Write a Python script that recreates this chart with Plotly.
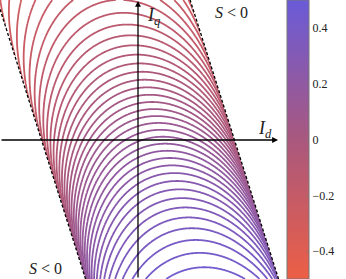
import numpy as np
import plotly.graph_objects as go

# feasible strip S >= 0 :  |Id + K*Iq| <= W   (outside: S < 0)
K_SHEAR = 0.317
W_HALF = 0.965

# shape of the level curves inside the strip
R_ARC = 1.2
B_SKEW = 0.28
G_MID = 1.11
A_SLOPE = 0.78
F_MID = 0.12
F_AMP = 1.17

X_RANGE = [-1.38, 1.42]
Y_RANGE = [-1.39, 1.40]
N_GRID = 420

LEVEL_START, LEVEL_END, LEVEL_STEP = -0.49, 0.49, 0.02
CBAR_RANGE = [-0.5, 0.5]
CBAR_TICKS = [-0.4, -0.2, 0, 0.2, 0.4]
CBAR_LABELS = ["−0.4", "−0.2", "0", "0.2", "0.4"]
COLORSCALE = [[0.0, "#ec5f45"], [0.5, "#a9587e"], [1.0, "#6a5bd8"]]

SERIF = "Liberation Serif, DejaVu Serif, serif"

x = np.linspace(X_RANGE[0], X_RANGE[1], N_GRID)
y = np.linspace(Y_RANGE[0], Y_RANGE[1], N_GRID)
X, Y = np.meshgrid(x, y)
U = (X + K_SHEAR * Y) / W_HALF
inside = np.abs(U) <= 1.0
Uc = np.clip(U, -1, 1)
G = -Y + R_ARC * (np.sqrt(1 - Uc ** 2) + B_SKEW * Uc)
F = F_MID + F_AMP * np.arctan(A_SLOPE * (G - G_MID)) / np.pi
F = np.where(inside, F, np.nan)

fig = go.Figure()
fig.add_trace(go.Contour(
    x=x, y=y, z=F,
    zmin=CBAR_RANGE[0], zmax=CBAR_RANGE[1],
    colorscale=COLORSCALE,
    contours=dict(coloring="lines", start=LEVEL_START, end=LEVEL_END, size=LEVEL_STEP),
    line=dict(width=1.8),
    connectgaps=False,
    showscale=False,
    hoverinfo="skip",
))

# continuous colour bar (dummy trace)
fig.add_trace(go.Scatter(
    x=[None, None], y=[None, None], mode="markers",
    marker=dict(
        color=CBAR_RANGE, cmin=CBAR_RANGE[0], cmax=CBAR_RANGE[1],
        colorscale=COLORSCALE, showscale=True,
        colorbar=dict(
            x=287 / 346, xanchor="left", xpad=0,
            y=0.5, yanchor="middle", len=1.0, lenmode="fraction", ypad=0,
            thickness=22, outlinecolor="#777777", outlinewidth=1,
            tickvals=CBAR_TICKS, ticktext=CBAR_LABELS,
            ticks="inside", ticklen=3, tickcolor="rgba(120,120,120,0.6)",
            tickfont=dict(family=SERIF, size=12, color="#222222"),
        ),
    ),
    hoverinfo="skip", showlegend=False,
))

# strip boundaries (dashed)
yb = np.array(Y_RANGE)
for side in (-1, 1):
    fig.add_trace(go.Scatter(
        x=side * W_HALF - K_SHEAR * yb, y=yb,
        mode="lines", line=dict(color="black", width=1.3, dash="3px,2px"),
        hoverinfo="skip", showlegend=False,
    ))

# coordinate axes with arrows
fig.add_annotation(x=1.40, y=0, ax=X_RANGE[0], ay=0, xref="x", yref="y", axref="x", ayref="y",
                   showarrow=True, arrowhead=2, arrowsize=0.9, arrowwidth=1.3, arrowcolor="black", text="")
fig.add_annotation(x=0, y=1.39, ax=0, ay=Y_RANGE[0], xref="x", yref="y", axref="x", ayref="y",
                   showarrow=True, arrowhead=2, arrowsize=0.9, arrowwidth=1.3, arrowcolor="black", text="")

for tx, ty, txt, sz in [
    (0.15, 1.24, "<i>I</i><sub><i>q</i></sub>", 18),
    (1.27, 0.11, "<i>I</i><sub><i>d</i></sub>", 18),
    (0.93, 1.28, "<i>S</i> &lt; 0", 16),
    (-0.93, -1.28, "<i>S</i> &lt; 0", 16),
]:
    fig.add_annotation(x=tx, y=ty, xref="x", yref="y", text=txt, showarrow=False,
                       font=dict(family=SERIF, size=sz, color="#222222"))

fig.update_layout(
    width=346, height=279,
    margin=dict(l=0, r=0, t=0, b=0),
    paper_bgcolor="white", plot_bgcolor="white",
    showlegend=False,
    xaxis=dict(range=X_RANGE, domain=[0, 280 / 346], visible=False),
    yaxis=dict(range=Y_RANGE, visible=False),
)

fig.write_html("out.html", config={"displayModeBar": False},
               post_script="document.body.style.margin='0';")
